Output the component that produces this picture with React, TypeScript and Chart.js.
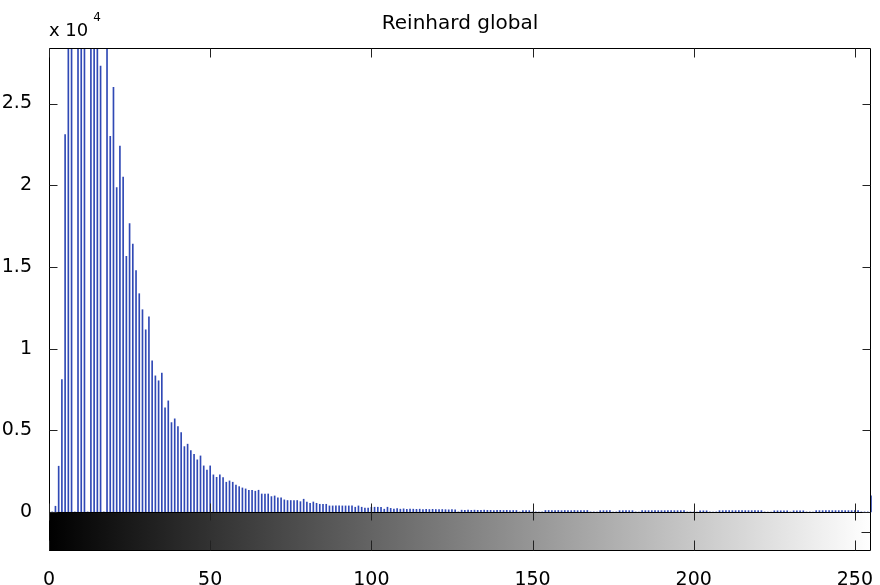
import React, { useEffect, useRef } from "react";
import { Chart, registerables } from "chart.js";

Chart.register(...registerables);

const TITLE = "Reinhard global";
const EXPONENT_BASE = "x 10";
const EXPONENT = "4";

// intensity levels 0..255
const BINS: number[] = Array.from({ length: 256 }, (_, i) => i);

// pixel counts per intensity level
const COUNTS: number[] = [
  // 0-9
  150, 0, 350, 2800, 8100, 23100, 31500, 34000, 0, 36000,
  // 10-19
  37000, 36500, 0, 35500, 34000, 31000, 27300, 0, 29500, 23000,
  // 20-29
  26000, 19850, 22400, 20500, 15640, 17650, 16400, 14770, 13360, 12380,
  // 30-39
  11150, 11950, 9250, 8330, 8030, 8500, 6370, 6800, 5470, 5700,
  // 40-49
  5230, 4860, 4000, 4150, 3760, 3530, 3190, 3430, 2820, 2570,
  // 50-59
  2820, 2270, 2120, 2270, 2100, 1820, 1900, 1820, 1640, 1550,
  // 60-69
  1470, 1410, 1330, 1330, 1270, 1330, 1100, 1100, 1100, 940,
  // 70-79
  980, 860, 860, 740, 700, 700, 700, 700, 630, 780,
  // 80-89
  600, 530, 610, 530, 470, 470, 470, 370, 370, 370,
  // 90-99
  370, 370, 370, 370, 370, 290, 370, 290, 230, 230,
  // 100-109
  290, 290, 290, 290, 170, 290, 220, 180, 200, 170,
  // 110-119
  190, 160, 180, 170, 160, 170, 150, 160, 150, 160,
  // 120-129
  150, 140, 150, 140, 130, 140, 130, 0, 110, 100,
  // 130-139
  110, 100, 110, 100, 100, 110, 100, 100, 90, 100,
  // 140-149
  100, 90, 100, 90, 90, 90, 0, 90, 90, 80,
  // 150-159
  0, 0, 0, 0, 90, 90, 80, 90, 90, 80,
  // 160-169
  90, 90, 80, 90, 80, 90, 80, 90, 0, 0,
  // 170-179
  0, 80, 80, 80, 80, 0, 0, 80, 80, 80,
  // 180-189
  80, 80, 0, 0, 80, 80, 80, 80, 80, 80,
  // 190-199
  80, 80, 80, 80, 80, 80, 80, 80, 0, 0,
  // 200-209
  0, 0, 70, 70, 70, 0, 0, 0, 80, 80,
  // 210-219
  80, 80, 80, 80, 80, 80, 80, 80, 80, 80,
  // 220-229
  80, 80, 0, 0, 0, 70, 70, 70, 70, 70,
  // 230-239
  0, 70, 70, 70, 70, 0, 0, 0, 80, 80,
  // 240-249
  80, 80, 80, 80, 80, 80, 80, 80, 80, 80,
  // 250-255
  80, 80, 0, 0, 0, 980,
];

const X_TICKS: number[] = [0, 50, 100, 150, 200, 250];
const X_TICK_LABELS: string[] = ["0", "50", "100", "150", "200", "250"];
const Y_TICKS: number[] = [0, 5000, 10000, 15000, 20000, 25000];
const Y_TICK_LABELS: string[] = ["0", "0.5", "1", "1.5", "2", "2.5"];

const X_MIN = 0;
const X_MAX = 255;
const Y_MAX = 28400;
const Y_MIN = -2390; // room for the grey colour bar under the axes

const FONT = "'DejaVu Sans', 'Liberation Sans', Arial, sans-serif";

const framePlugin = {
  id: "matlabFrame",
  beforeDatasetsDraw(chart: any) {
    const { ctx, chartArea: ca } = chart;
    const xs = chart.scales.x;
    const ys = chart.scales.y;
    const y0 = ys.getPixelForValue(0);
    const g = ctx.createLinearGradient(
      xs.getPixelForValue(X_MIN),
      0,
      xs.getPixelForValue(X_MAX),
      0
    );
    g.addColorStop(0, "#000000");
    g.addColorStop(1, "#ffffff");
    ctx.save();
    ctx.fillStyle = g;
    ctx.fillRect(ca.left, y0, ca.right - ca.left, ca.bottom - y0);
    ctx.restore();
  },
  afterDraw(chart: any) {
    const { ctx, chartArea: ca } = chart;
    const xs = chart.scales.x;
    const ys = chart.scales.y;
    const y0 = Math.round(ys.getPixelForValue(0)) + 0.5;
    const L = Math.round(ca.left) + 0.5;
    const R = Math.round(ca.right) - 0.5;
    const T = Math.round(ca.top) + 0.5;
    const B = Math.round(ca.bottom) - 0.5;
    ctx.save();
    ctx.strokeStyle = "#000";
    ctx.lineWidth = 1;
    ctx.beginPath();
    ctx.rect(L, T, R - L, B - T);
    ctx.moveTo(L, y0);
    ctx.lineTo(R, y0);
    ctx.stroke();

    ctx.strokeStyle = "#222";
    ctx.beginPath();
    // y ticks, inward on both sides
    for (const v of Y_TICKS) {
      const y = Math.round(ys.getPixelForValue(v)) + 0.5;
      ctx.moveTo(L, y);
      ctx.lineTo(L + 8, y);
      ctx.moveTo(R, y);
      ctx.lineTo(R - 8, y);
    }
    // x ticks, inward on main axes and colour bar
    for (const v of X_TICKS) {
      const x = Math.round(xs.getPixelForValue(v)) + 0.5;
      ctx.moveTo(x, T);
      ctx.lineTo(x, T + 9);
      ctx.moveTo(x, y0);
      ctx.lineTo(x, y0 - 9);
      ctx.moveTo(x, y0);
      ctx.lineTo(x, y0 + 8);
      ctx.moveTo(x, B);
      ctx.lineTo(x, B - 10);
    }
    const ym = Math.round((y0 + B) / 2) + 0.5;
    ctx.moveTo(R, ym);
    ctx.lineTo(R - 9, ym);
    ctx.stroke();

    ctx.fillStyle = "#000";
    // title, centred over the axes
    ctx.textAlign = "center";
    ctx.textBaseline = "alphabetic";
    ctx.font = `20px ${FONT}`;
    ctx.fillText(TITLE, (ca.left + ca.right) / 2, 29);

    // exponent label
    ctx.textAlign = "left";
    ctx.font = `18px ${FONT}`;
    ctx.fillText(EXPONENT_BASE, ca.left, 36);
    const w = ctx.measureText(EXPONENT_BASE).width;
    ctx.font = `12px ${FONT}`;
    ctx.fillText(EXPONENT, ca.left + w + 5, 21);
    ctx.restore();
  },
};

export default function App() {
  const ref = useRef<HTMLCanvasElement | null>(null);

  useEffect(() => {
    if (!ref.current) return;
    const chart = new Chart(ref.current, {
      type: "bar",
      data: {
        datasets: [
          {
            data: BINS.map((b, i) => ({ x: b, y: COUNTS[i] })),
            backgroundColor: "#3049b5",
            borderWidth: 0,
            barThickness: 1,
            clip: { left: 0, top: 0, right: 3, bottom: 0 },
          } as any,
        ],
      },
      options: {
        responsive: false,
        animation: false,
        layout: { padding: { left: 0, right: 9, top: 48, bottom: 0 } },
        plugins: {
          legend: { display: false },
          tooltip: { enabled: false },
          title: { display: false },
        },
        scales: {
          x: {
            type: "linear",
            min: X_MIN,
            max: X_MAX,
            offset: false,
            grid: { display: false, offset: false },
            border: { display: false },
            ticks: {
              color: "#000",
              font: { family: FONT, size: 19 },
              padding: 10,
              maxRotation: 0,
              autoSkip: false,
              callback: (_v: any, i: number) => X_TICK_LABELS[i],
            },
            afterBuildTicks: (s: any) => {
              s.ticks = X_TICKS.map((v) => ({ value: v }));
            },
            afterFit: (s: any) => {
              s.height = 34;
              s.paddingRight = 0;
            },
          },
          y: {
            type: "linear",
            min: Y_MIN,
            max: Y_MAX,
            grid: { display: false },
            border: { display: false },
            ticks: {
              color: "#000",
              font: { family: FONT, size: 19 },
              padding: 9,
              callback: (_v: any, i: number) => Y_TICK_LABELS[i],
            },
            afterBuildTicks: (s: any) => {
              s.ticks = Y_TICKS.map((v) => ({ value: v }));
            },
            afterFit: (s: any) => {
              s.width = 49;
            },
          },
        },
      } as any,
      plugins: [framePlugin],
    });
    return () => chart.destroy();
  }, []);

  return (
    <div style={{ position: "absolute", left: 0, top: 0, width: 880, height: 585, background: "#fff" }}>
      <canvas ref={ref} width={880} height={585} style={{ display: "block" }} />
    </div>
  );
}
